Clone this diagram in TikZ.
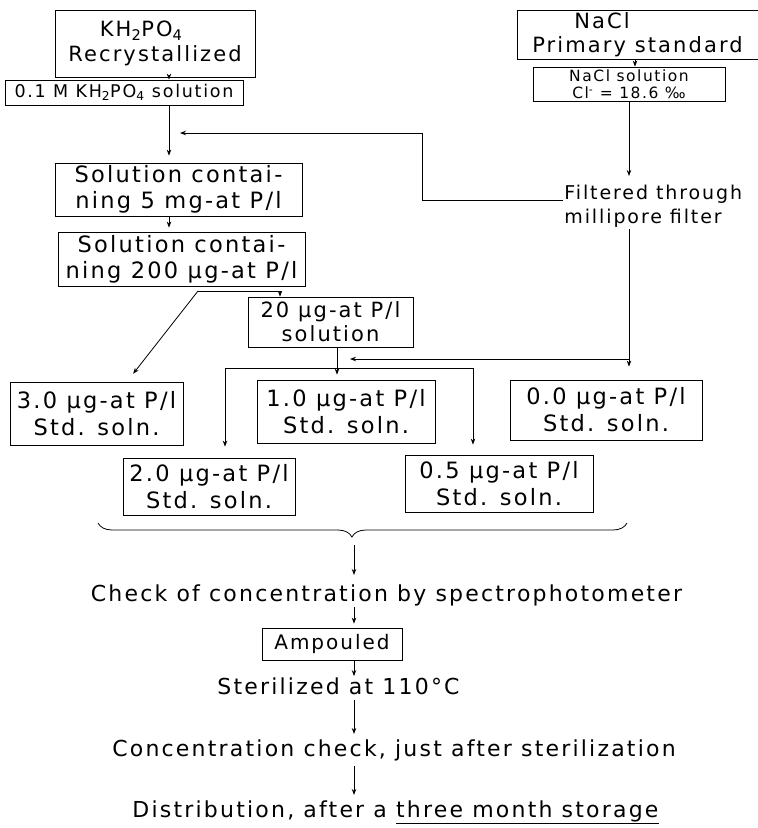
\documentclass[tikz,border=0pt]{standalone}
\usepackage{fontspec}
\setmainfont{DejaVu Sans}[LetterSpace=10]
\usepackage{tikz}
\usetikzlibrary{arrows.meta}
\usetikzlibrary{decorations.pathreplacing}
\newcommand{\hand}[2]{\fontsize{#1}{#2}\selectfont}

\begin{document}
\begin{tikzpicture}[x=1pt, y=-1pt, line width=0.8pt, >={Stealth[length=6pt, width=4.5pt]},
    box/.style={draw, align=center, inner sep=1pt},
    note/.style={align=center, inner sep=1pt}]
    \useasboundingbox (0,0) rectangle (758,828);

    \node[box, align=left, minimum width=200, minimum height=67, font=\hand{21}{25}] (kh) at (155,43.5) {\hspace*{1.5em}KH\textsubscript{2}PO\textsubscript{4}\\Recrystallized};
    \node[box, minimum width=238, minimum height=25, font=\hand{17.5}{20}] (solkh) at (124,92.5) {0.1 M KH\textsubscript{2}PO\textsubscript{4} solution};
    \node[box, minimum width=247, minimum height=53, font=\hand{22.5}{26}] (sol5) at (178.5,189.5) {Solution contai-\\ning 5 mg-at P/l};
    \node[box, minimum width=247, minimum height=54, font=\hand{22.5}{26}] (sol200) at (181.5,259) {Solution contai-\\ning 200 µg-at P/l};
    \node[box, minimum width=165, minimum height=50, font=\hand{21}{24}] (sol20) at (330.5,322) {20 µg-at P/l\\solution};

    \node[box, align=left, minimum width=241, minimum height=49, font=\hand{21}{24}] (nacl) at (637.5,34.5) {\hspace*{2em}NaCl\\Primary standard};
    \node[box, minimum width=192, minimum height=34, inner sep=0.5pt, font=\hand{15.5}{17}] (naclsol) at (629,84) {NaCl solution\\Cl\textsuperscript{-} = 18.6 ‰};
    \node[note, align=left, anchor=north west, font=\hand{19}{24}] (filt) at (563,184) {Filtered through\\millipore filter};

    \node[box, minimum width=173, minimum height=63, font=\hand{22.5}{27}] (b30) at (96.5,413.5) {3.0 µg-at P/l\\Std. soln.};
    \node[box, minimum width=178, minimum height=63, font=\hand{22.5}{27}] (b10) at (346,411.5) {1.0 µg-at P/l\\Std. soln.};
    \node[box, minimum width=192, minimum height=60, font=\hand{22.5}{27}] (b00) at (606,410) {0.0 µg-at P/l\\Std. soln.};
    \node[box, minimum width=172, minimum height=57, font=\hand{22.5}{27}] (b20) at (209,486.5) {2.0 µg-at P/l\\Std. soln.};
    \node[box, minimum width=188, minimum height=57, font=\hand{22.5}{27}] (b05) at (499,483.5) {0.5 µg-at P/l\\Std. soln.};

    \node[note, font=\hand{22}{26}] (check) at (386.5,595) {Check of concentration by spectrophotometer};
    \node[box, minimum width=140, minimum height=32, font=\hand{20}{24}] (amp) at (332,644) {Ampouled};
    \node[note, font=\hand{22}{26}] (steril) at (338.5,686) {Sterilized at 110°C};
    \node[note, font=\hand{22}{26}] (conc) at (394,750) {Concentration check, just after sterilization};
    \node[note, font=\hand{22}{26}] (dist) at (395.5,812) {Distribution, after a \underline{three month storage}};

    \coordinate (colA) at (169,0);
    \coordinate (colC) at (280,0);
    \coordinate (colD) at (127,0);
    \coordinate (colE) at (337,0);
    \coordinate (colF) at (473,0);
    \coordinate (colG) at (635,0);
    \coordinate (colH) at (629,0);
    \coordinate (fork) at (198,291);
    \coordinate (spl) at (225,368);
    \coordinate (jn) at (629,359);
    \coordinate (in20) at (350,359);
    \coordinate (bend) at (422,200);
    \coordinate (in5) at (180,133);
    \coordinate (brl) at (98,523);
    \coordinate (brr) at (627,523);
    \coordinate (brt) at (354,545);

    \draw[->] (kh.south -| colA) -- (solkh.north -| colA);
    \draw[->, shorten >=7pt] (solkh.south -| colA) -- (sol5.north -| colA);
    \draw[->, shorten >=4pt] (sol5.south -| colA) -- (sol200.north -| colA);
    \draw[->] (fork) -- (fork -| colC) -- (sol20.north -| colC);
    \draw[->, shorten >=10pt] (fork) -- (b30.north -| colD);
    \draw[->, shorten >=5pt] (sol20.south -| colE) -- (b10.north -| colE);
    \draw[<->, shorten <=11pt, shorten >=10pt] (b20.north -| spl) -- (spl) -- (spl -| colF) -- (b05.north -| colF);
    \draw[->] (nacl.south -| colG) -- (naclsol.north -| colG);
    \draw[->, shorten >=8pt] (naclsol.south -| colH) -- (filt.north -| colH);
    \draw[->, shorten >=13pt] (filt.south -| colH) -- (b00.north -| colH);
    \draw[->] (jn) -- (in20);
    \draw[->] (bend -| filt.west) -- (bend) |- (in5);

    \draw[decorate, decoration={brace, mirror, amplitude=14pt, aspect=0.48}] (brl) -- (brr);
    \draw[->, shorten >=8pt] (brt) -- (check.north -| brt);
    \draw[->, shorten >=4pt] (check.south -| brt) -- (amp.north -| brt);
    \draw[->] (amp.south -| brt) -- (steril.north -| brt);
    \draw[->, shorten <=4pt, shorten >=4pt] (steril.south -| brt) -- (conc.north -| brt);
    \draw[->, shorten <=4pt, shorten >=4pt] (conc.south -| brt) -- (dist.north -| brt);
\end{tikzpicture}
\end{document}
